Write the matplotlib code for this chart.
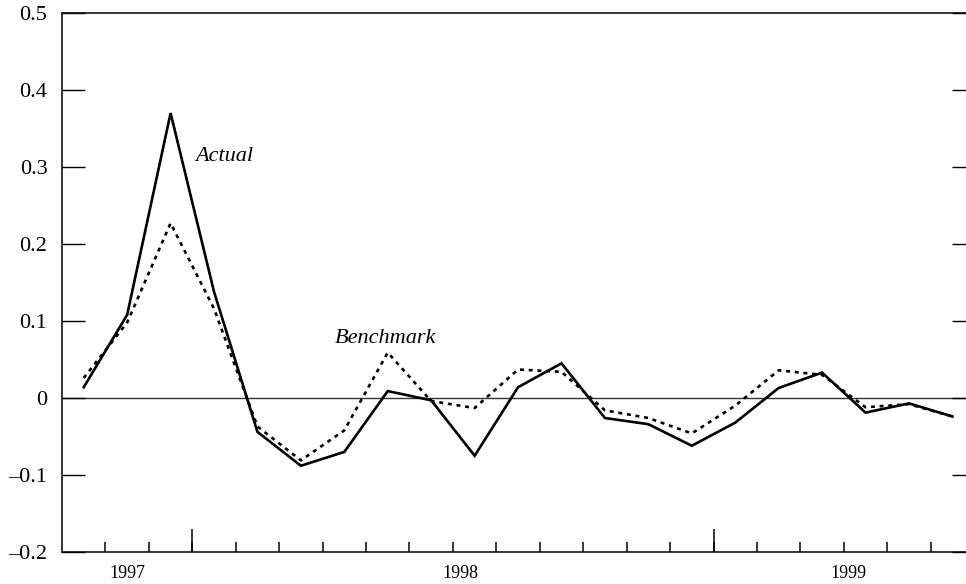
import matplotlib
matplotlib.use("Agg")
import matplotlib.pyplot as plt
import numpy as np

# Monthly observations, index 0..20
actual = [0.014, 0.108, 0.370, 0.138, -0.044, -0.088, -0.070, 0.009, -0.003, -0.075,
          0.014, 0.045, -0.026, -0.034, -0.062, -0.032, 0.013, 0.033, -0.019, -0.007, -0.024]
benchmark = [0.026, 0.098, 0.227, 0.116, -0.037, -0.081, -0.042, 0.059, -0.004, -0.013,
             0.037, 0.034, -0.016, -0.026, -0.046, -0.010, 0.036, 0.030, -0.012, -0.008, -0.024]
year_labels = ["1997", "1998", "1999"]
year_label_pos = [1.0, 8.67, 17.6]
year_break_pos = [2.5, 14.5]
y_ticks = [-0.2, -0.1, 0.0, 0.1, 0.2, 0.3, 0.4, 0.5]
y_tick_labels = ["\u20130.2", "\u20130.1", "0", "0.1", "0.2", "0.3", "0.4", "0.5"]

plt.rcParams["font.family"] = ["Liberation Serif", "DejaVu Serif"]

W, H = 966, 584
fig = plt.figure(figsize=(W / 100, H / 100), dpi=100)
left, right, bottom, top = 62, 975, 552, 13
ax = fig.add_axes([left / W, 1 - bottom / H, (right - left) / W, (bottom - top) / H])

x = np.arange(len(actual))
ax.axhline(0, color="#333333", lw=1.0, zorder=1)
ax.plot(x, actual, color="black", lw=1.9, solid_joinstyle="miter", zorder=3)
ax.plot(x, benchmark, color="black", lw=1.9, linestyle=(0, (1.5, 1.8)), zorder=2)

ax.set_xlim(-0.5, 20.52)
ax.set_ylim(-0.2, 0.5)

for side in ("left", "bottom", "top"):
    ax.spines[side].set_linewidth(1.1)
ax.spines["right"].set_visible(False)

ax.set_yticks(y_ticks, y_tick_labels)
ax.tick_params(axis="y", direction="in", length=16.5, width=1.0, left=True, right=True,
               labelsize=16, pad=10.5)

# month ticks (short) and year-label positions
ax.set_xticks(np.arange(0.5, 20.0, 1.0), minor=True)
ax.set_xticks(year_label_pos, year_labels)
ax.tick_params(axis="x", which="minor", direction="in", length=7.5, width=1.1, top=False)
ax.tick_params(axis="x", which="major", length=0, labelsize=13, pad=9)

# year breaks (long ticks)
sec = ax.secondary_xaxis("bottom")
sec.set_xticks(year_break_pos, ["", ""])
sec.tick_params(direction="in", length=16.5, width=1.1)
sec.spines["bottom"].set_visible(False)

ax.text(3.23, 0.314, "Actual", style="italic", fontsize=16, ha="center", va="center")
ax.text(6.94, 0.077, "Benchmark", style="italic", fontsize=16, ha="center", va="center")

fig.savefig("out.png", dpi=100)
